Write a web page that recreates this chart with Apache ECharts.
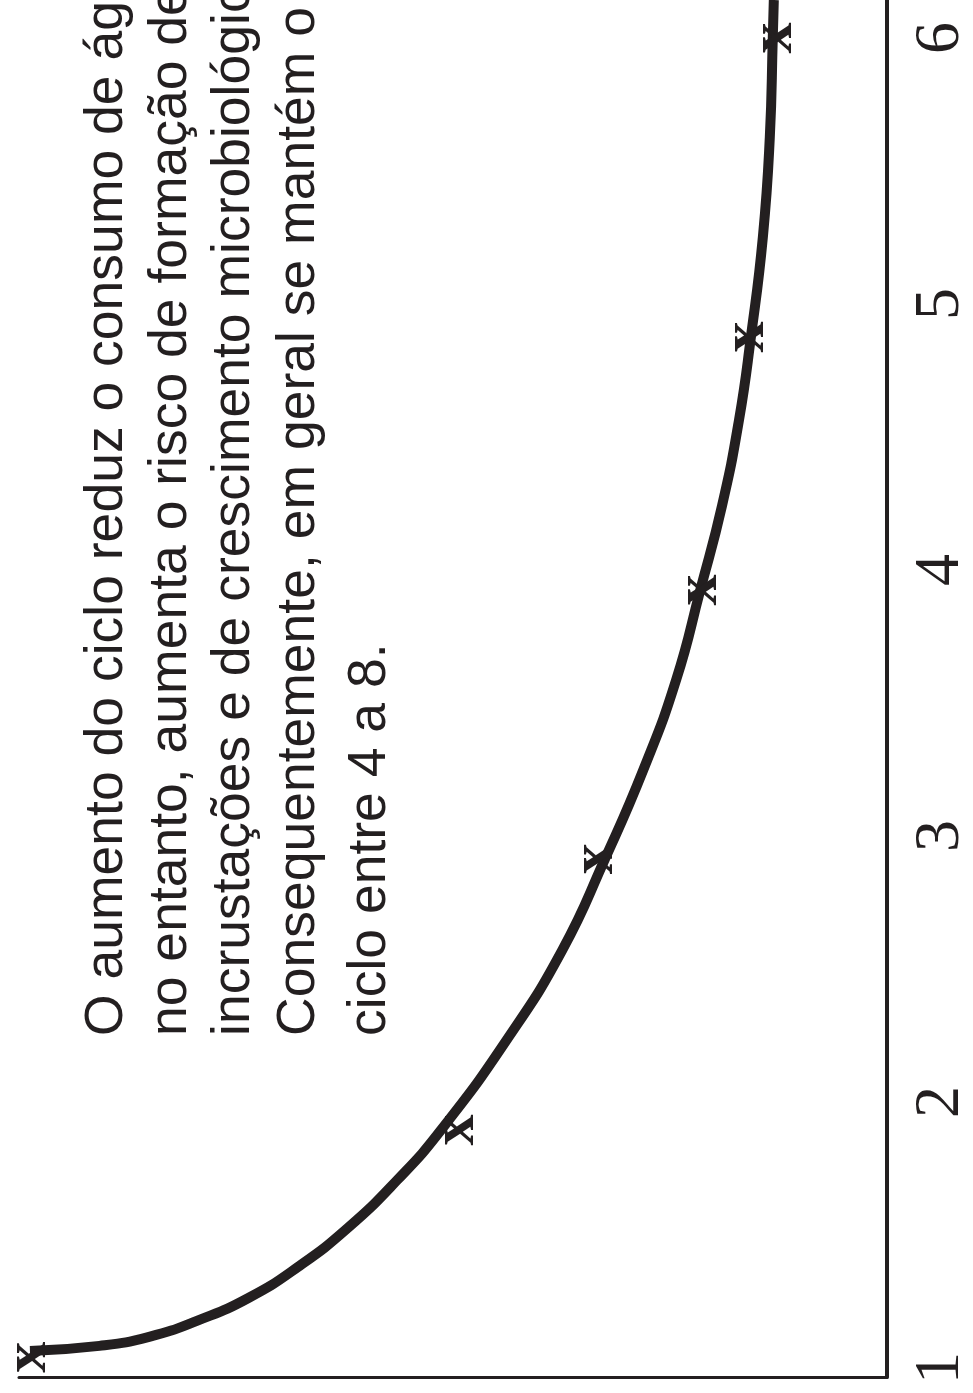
<!DOCTYPE html>
<html>
<head>
<meta charset="utf-8">
<script src="https://cdn.jsdelivr.net/npm/echarts@6/dist/echarts.min.js"></script>
<style>
html,body{margin:0;padding:0;background:#fff;overflow:hidden;}
#chart{width:973px;height:1393px;}
</style>
</head>
<body>
<div id="chart"></div>
<script>
// cycle (ciclo) ticks and labels
const cycleTicks = [1, 2, 3, 4, 5, 6];
const cycleTickLabels = ['1', '2', '3', '4', '5', '6'];
// marker points ("x"): cycle position and relative water consumption
const markerCycle = [1.04, 1.895, 2.914, 3.925, 4.876, 6.0];
const markerValue = [98.9, 49.5, 33.5, 21.6, 16.1, 12.9];
// points
const curveCycle = [1.064, 1.083, 1.117, 1.180, 1.263, 1.380, 1.526, 1.707, 1.895, 2.233, 2.571, 2.914,
  3.252, 3.590, 3.925, 4.244, 4.564, 4.876, 5.252, 5.628, 6.0, 6.143];
const curveValue = [98.74, 90.73, 85.01, 79.29, 73.57, 67.85, 62.13, 56.41, 51.37, 43.82, 37.41, 32.49,
  28.03, 24.26, 21.51, 18.99, 17.05, 15.68, 14.30, 13.50, 13.16, 13.04];
// annotation text lines
const textLines = [
  'O aumento do ciclo reduz o consumo de água e,',
  'no entanto, aumenta o risco de formação de',
  'incrustações e de crescimento microbiológico.',
  'Consequentemente, em geral se mantém o',
  'ciclo entre 4 a 8.'
];
const textBaselines = [126, 190, 253, 318, 389];

const INK = '#231f20';
const chart = echarts.init(document.getElementById('chart'));

const graphics = textLines.map((t, i) => ({
  type: 'text',
  x: textBaselines[i] - 19,
  y: 1393 - 357,
  rotation: Math.PI / 2,
  silent: true,
  style: {
    text: t,
    fontFamily: 'Liberation Sans',
    fontSize: 53.5,
    fill: INK,
    align: 'left',
    verticalAlign: 'middle'
  }
}));

chart.setOption({
  animation: false,
  backgroundColor: '#fff',
  grid: { left: 19, right: 80, top: 0, bottom: 16, containLabel: false },
  xAxis: {
    type: 'value',
    min: 0,
    max: 100,
    inverse: true,
    position: 'bottom',
    axisLine: { show: true, onZero: false, lineStyle: { color: INK, width: 3 } },
    axisTick: { show: false },
    axisLabel: { show: false },
    splitLine: { show: false }
  },
  yAxis: {
    type: 'value',
    min: 0.966,
    max: 6.143,
    position: 'right',
    axisLine: { show: true, onZero: false, lineStyle: { color: INK, width: 4 } },
    axisTick: { show: false },
    splitLine: { show: false },
    axisLabel: {
      show: true,
      customValues: cycleTicks,
      formatter: v => cycleTickLabels[cycleTicks.indexOf(Math.round(v))] || '',
      rotate: 90,
      margin: 22,
      fontFamily: 'Liberation Serif',
      fontSize: 64,
      color: INK
    }
  },
  series: [
    {
      type: 'line',
      data: curveCycle.map((c, i) => [curveValue[i], c]),
      smooth: 0.5,
      showSymbol: false,
      symbol: 'none',
      lineStyle: { color: INK, width: 10 },
      z: 2
    },
    {
      type: 'scatter',
      data: markerCycle.map((c, i) => [markerValue[i], c]),
      symbolSize: 1,
      itemStyle: { color: INK, opacity: 0 },
      label: {
        show: true,
        formatter: 'x',
        position: 'inside',
        rotate: 90,
        fontFamily: 'Liberation Serif',
        fontWeight: 'bold',
        fontSize: 62,
        color: INK,
        opacity: 1,
        textBorderWidth: 0,
        textBorderColor: 'transparent',
        textShadowBlur: 0
      },
      z: 3
    }
  ],
  graphic: graphics
});
</script>
</body>
</html>
